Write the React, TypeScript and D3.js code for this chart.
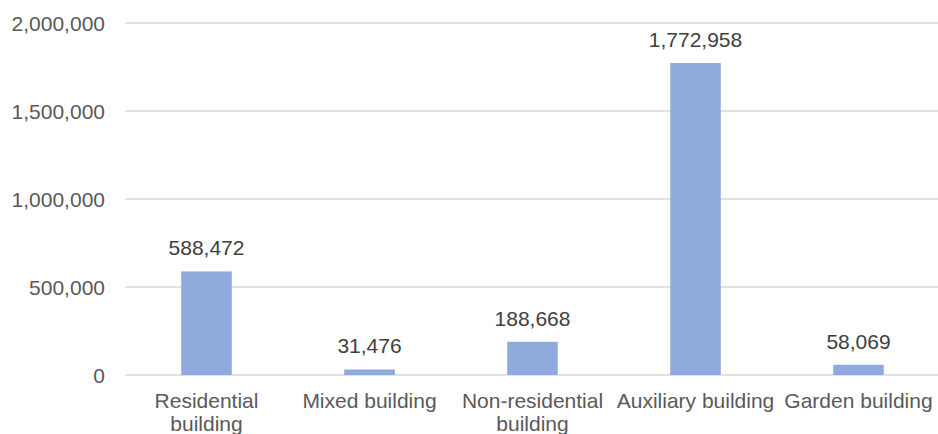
import React, { useEffect, useRef } from 'react';
import * as d3 from 'd3';

const categories = [
  "Residential building",
  "Mixed building",
  "Non-residential building",
  "Auxiliary building",
  "Garden building",
];
const values = [588472, 31476, 188668, 1772958, 58069];
const yTicks = [0, 500000, 1000000, 1500000, 2000000];

const W = 938;
const H = 434;

export default function App() {
  const svgRef = useRef<SVGSVGElement>(null);

  useEffect(() => {
    if (!svgRef.current) return;
    const svg = d3.select(svgRef.current);
    svg.selectAll("*").remove();

    const margin = { top: 23, right: -2, bottom: 59, left: 125 };
    const width = W - margin.left - margin.right;
    const height = H - margin.top - margin.bottom;
    const font = "'Liberation Sans', Arial, sans-serif";
    const fmt = d3.format(",");

    const g = svg.append("g").attr("transform", `translate(${margin.left},${margin.top})`);

    const x = d3.scaleBand().domain(categories).range([0, width]).paddingInner(0.69).paddingOuter(0.345);
    const y = d3.scaleLinear().domain([0, 2000000]).range([height, 0]);

    // gridlines
    g.selectAll(".grid")
      .data(yTicks)
      .enter()
      .append("line")
      .attr("x1", 0)
      .attr("x2", width)
      .attr("y1", d => y(d))
      .attr("y2", d => y(d))
      .attr("stroke", "#d9d9d9")
      .attr("stroke-width", 1.3);

    // y tick labels
    g.selectAll(".ytick")
      .data(yTicks)
      .enter()
      .append("text")
      .attr("x", -20)
      .attr("y", d => y(d))
      .attr("dy", "0.36em")
      .attr("text-anchor", "end")
      .style("font-family", font)
      .style("font-size", "21px")
      .style("fill", "#595959")
      .text(d => fmt(d));

    // bars
    g.selectAll(".bar")
      .data(values)
      .enter()
      .append("rect")
      .attr("x", (_, i) => x(categories[i]) || 0)
      .attr("y", d => y(d))
      .attr("width", x.bandwidth())
      .attr("height", d => height - y(d))
      .attr("fill", "#8faadc");

    // value labels
    g.selectAll(".label")
      .data(values)
      .enter()
      .append("text")
      .attr("x", (_, i) => (x(categories[i]) || 0) + x.bandwidth() / 2)
      .attr("y", d => y(d) - 16)
      .attr("text-anchor", "middle")
      .style("font-family", font)
      .style("font-size", "21px")
      .style("fill", "#404040")
      .text(d => fmt(d));

    // category labels with wrapping
    const step = x.step();
    categories.forEach(c => {
      const cx = (x(c) || 0) + x.bandwidth() / 2;
      const t = g.append("text")
        .attr("x", cx)
        .attr("y", height + 33)
        .attr("text-anchor", "middle")
        .style("font-family", font)
        .style("font-size", "21px")
        .style("fill", "#595959")
        .text(c);
      const node = t.node() as SVGTextElement;
      if (node.getComputedTextLength() > step) {
        t.text(null);
        const words = c.split(" ");
        const last = words.pop();
        t.append("tspan").attr("x", cx).attr("dy", 0).text(words.join(" "));
        t.append("tspan").attr("x", cx).attr("dy", "1.1em").text(last || "");
      }
    });
  }, []);

  return (
    <svg
      ref={svgRef}
      width={W}
      height={H}
      style={{ position: "absolute", left: 0, top: 0, background: "#fff" }}
    />
  );
}
